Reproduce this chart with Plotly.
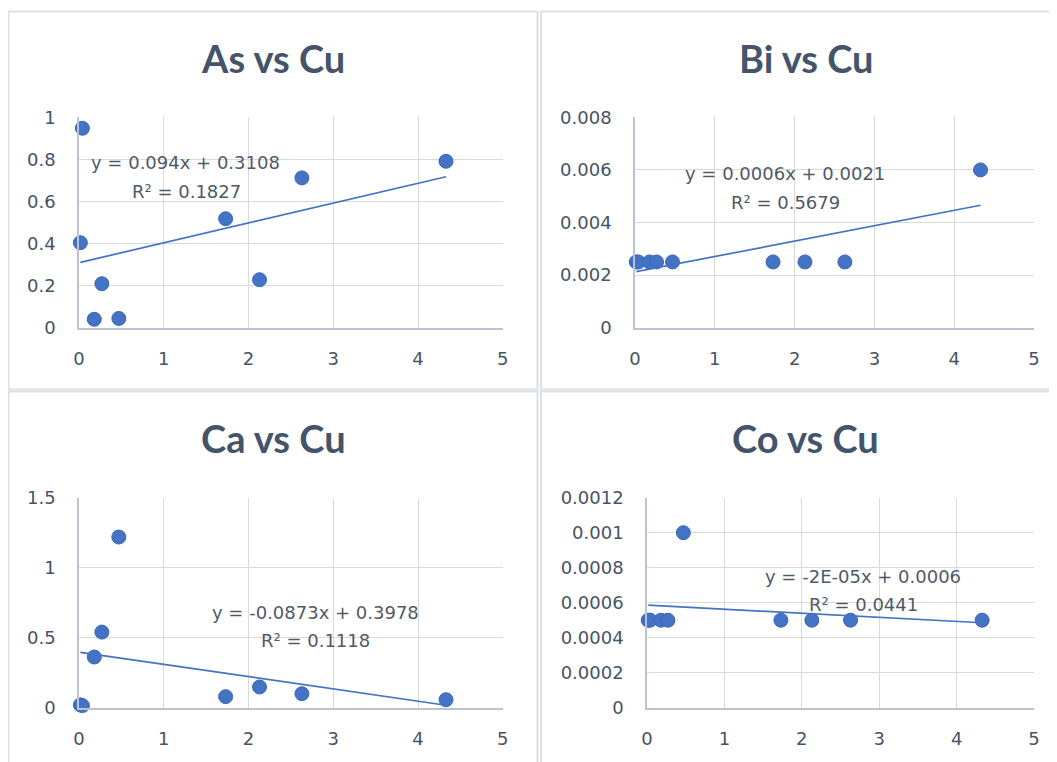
import numpy as np
import plotly.graph_objects as go

# ---------------- data ----------------
cu = [0.016, 0.04, 0.18, 0.27, 0.47, 1.73, 2.13, 2.63, 4.33]
as_vals = [0.404, 0.948, 0.040, 0.209, 0.044, 0.518, 0.228, 0.712, 0.791]
bi_vals = [0.0025, 0.0025, 0.0025, 0.0025, 0.0025, 0.0025, 0.0025, 0.0025, 0.006]
ca_vals = [0.020, 0.015, 0.362, 0.540, 1.219, 0.079, 0.148, 0.100, 0.057]
co_vals = [0.0005, 0.0005, 0.0005, 0.0005, 0.001, 0.0005, 0.0005, 0.0005, 0.0005]

titles = ["As vs Cu", "Bi vs Cu", "Ca vs Cu", "Co vs Cu"]
equations = ["y = 0.094x + 0.3108", "y = 0.0006x + 0.0021",
             "y = -0.0873x + 0.3978", "y = -2E-05x + 0.0006"]
r2_labels = ["R² = 0.1827", "R² = 0.5679", "R² = 0.1118", "R² = 0.0441"]

x_ticks = [0, 1, 2, 3, 4, 5]
x_ticktext = ["0", "1", "2", "3", "4", "5"]
y_ticks = [
    [0, 0.2, 0.4, 0.6, 0.8, 1.0],
    [0, 0.002, 0.004, 0.006, 0.008],
    [0, 0.5, 1.0, 1.5],
    [0, 0.0002, 0.0004, 0.0006, 0.0008, 0.001, 0.0012],
]
y_ticktext = [
    ["0", "0.2", "0.4", "0.6", "0.8", "1"],
    ["0", "0.002", "0.004", "0.006", "0.008"],
    ["0", "0.5", "1", "1.5"],
    ["0", "0.0002", "0.0004", "0.0006", "0.0008", "0.001", "0.0012"],
]
series = [as_vals, bi_vals, ca_vals, co_vals]

# ---------------- layout helpers ----------------
W, H = 1057, 762
OFF = 8  # default page body margin: figure is drawn 8px right/down in the window
def px(v):
    return (v - OFF) / W
def py(v):
    return 1 - (v - OFF) / H

# plot areas in window pixels: (left, right, top, bottom)
areas = [
    (79, 502.8, 117.3, 327.7),
    (635, 1034, 117.3, 327.7),
    (79, 502.8, 497.7, 707.7),
    (647, 1034, 497.7, 707.7),
]
title_pos = [(273, 58), (806, 58), (273.5, 438), (805.6, 438)]
eq_pos = [(185, 163), (785, 173), (315.5, 612.5), (862.5, 576)]
r2_pos = [(186, 191.5), (785.5, 202), (315.5, 640.5), (863, 604)]

BLUE = "#4472C4"
TICK_COLOR = "#475366"
LABEL_COLOR = "#4F5A69"
TITLE_COLOR = "#44546A"
GRID = "#D9D9D9"
AXLINE = "#BCC3D0"
BORDER = "#DCE0E7"
SMALL_FONT = "DejaVu Sans"

fig = go.Figure()

for i in range(4):
    xa = "x" if i == 0 else f"x{i+1}"
    ya = "y" if i == 0 else f"y{i+1}"
    yv = series[i]
    # trendline (least squares fit of the data)
    slope, intercept = np.polyfit(cu, yv, 1)
    xs = [min(cu), max(cu)]
    ys = [slope * v + intercept for v in xs]
    fig.add_trace(go.Scatter(
        x=cu, y=yv, mode="markers", xaxis=xa, yaxis=ya,
        marker=dict(size=14, color=BLUE, line=dict(color="#3B67B5", width=1)),
        cliponaxis=False, showlegend=False, hoverinfo="skip"))
    fig.add_trace(go.Scatter(
        x=xs, y=ys, mode="lines", xaxis=xa, yaxis=ya,
        line=dict(color=BLUE, width=1.7),
        cliponaxis=False, showlegend=False, hoverinfo="skip"))

    l, r, t, b = areas[i]
    xkey = "xaxis" if i == 0 else f"xaxis{i+1}"
    ykey = "yaxis" if i == 0 else f"yaxis{i+1}"
    fig.update_layout(**{
        xkey: dict(domain=[px(l), px(r)], range=[0, 5], anchor=ya,
                   tickvals=x_ticks, ticktext=x_ticktext,
                   showgrid=True, gridcolor=GRID, gridwidth=1,
                   zeroline=False, showline=True, linecolor=AXLINE, linewidth=1.5,
                   ticks="", ticklabelstandoff=14, automargin=False,
                   tickfont=dict(family=SMALL_FONT, size=18, color=TICK_COLOR),
                   fixedrange=True),
        ykey: dict(domain=[py(b), py(t)], range=[0, y_ticks[i][-1]], anchor=xa,
                   tickvals=y_ticks[i], ticktext=y_ticktext[i],
                   showgrid=True, gridcolor=GRID, gridwidth=1,
                   zeroline=False, showline=True, linecolor=AXLINE, linewidth=1.5,
                   ticks="", ticklabelstandoff=18, automargin=False,
                   tickfont=dict(family=SMALL_FONT, size=18, color=TICK_COLOR),
                   fixedrange=True),
    })

    fig.add_annotation(x=px(title_pos[i][0]), y=py(title_pos[i][1]),
                       xref="paper", yref="paper", text=f"<b>{titles[i]}</b>",
                       showarrow=False, xanchor="center", yanchor="middle",
                       font=dict(family="Lato", size=38, color=TITLE_COLOR))
    fig.add_annotation(x=px(eq_pos[i][0]), y=py(eq_pos[i][1]),
                       xref="paper", yref="paper", text=equations[i],
                       showarrow=False, xanchor="center", yanchor="middle",
                       font=dict(family=SMALL_FONT, size=18, color=LABEL_COLOR))
    fig.add_annotation(x=px(r2_pos[i][0]), y=py(r2_pos[i][1]),
                       xref="paper", yref="paper", text=r2_labels[i],
                       showarrow=False, xanchor="center", yanchor="middle",
                       font=dict(family=SMALL_FONT, size=18, color=LABEL_COLOR))

# chart-area borders (window pixels)
boxes = [(8.5, 537.5, 11.5, 389.5), (541, 1080, 11.5, 389.5),
         (8.5, 537.5, 391.5, 790), (541, 1080, 391.5, 790)]
for (x0, x1, y0, y1) in boxes:
    fig.add_shape(type="rect", xref="paper", yref="paper",
                  x0=px(x0), x1=px(x1), y0=py(y1), y1=py(y0),
                  line=dict(color=BORDER, width=2), fillcolor="rgba(0,0,0,0)",
                  layer="below")

fig.update_layout(width=W, height=H,
                  margin=dict(l=0, r=0, t=0, b=0, pad=0, autoexpand=False),
                  paper_bgcolor="white", plot_bgcolor="white", showlegend=False)

fig.write_html("out.html")
